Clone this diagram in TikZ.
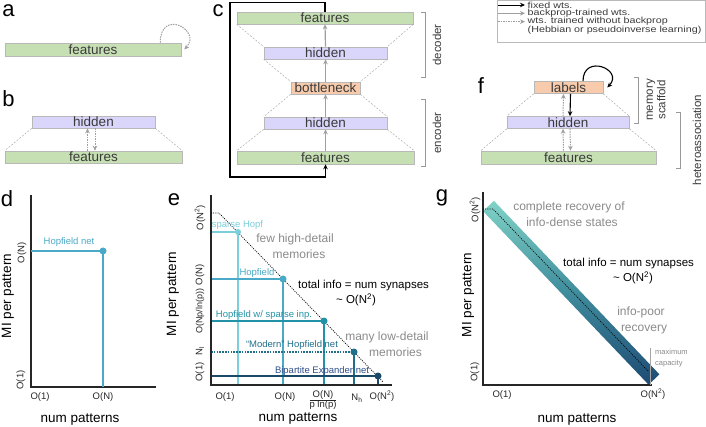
\documentclass[tikz,border=0pt]{standalone}
\usepackage{fontspec}
\setmainfont{Liberation Sans}
\newfontfamily\legfont[FakeStretch=1.22]{Liberation Sans}
\usetikzlibrary{arrows.meta}
\definecolor{featg}{HTML}{C6E0B4}
\definecolor{hidp}{HTML}{DAD5FA}
\definecolor{orng}{HTML}{F7CBAC}
\definecolor{layb}{HTML}{B8B8B8}
\definecolor{txtg}{HTML}{3A3A3A}
\definecolor{anng}{HTML}{8A8A8A}
\definecolor{cSp}{HTML}{7ACFDA}
\definecolor{cHop}{HTML}{4AA9C6}
\definecolor{cHsp}{HTML}{2293A6}
\definecolor{cMod}{HTML}{1F6E8A}
\definecolor{cBip}{HTML}{1B4A68}
\definecolor{cBipT}{HTML}{2D4E8A}
\definecolor{bandA}{HTML}{80D3C7}
\definecolor{bandM}{HTML}{3F8C9C}
\definecolor{bandB}{HTML}{1D4A74}
\begin{document}
\begin{tikzpicture}[x=1pt,y=-1pt,
  layer/.style={draw=layb, line width=0.6pt, inner sep=0pt, text=txtg, font=\fontsize{13.5}{14}\selectfont, minimum height=12pt},
  featl/.style={layer, fill=featg},
  hidl/.style={layer, fill=hidp},
  orl/.style={layer, fill=orng},
  trap/.style={draw=gray!65, dash pattern=on 2pt off 1.5pt, line width=0.5pt},
  fixedw/.style={draw=black, line width=1.1pt, -{Stealth[length=5pt,width=4.5pt]}},
  bpw/.style={draw=gray!75, line width=1.2pt, -{Stealth[length=5pt,width=4.5pt]}},
  nobpw/.style={draw=gray!75, line width=1pt, dash pattern=on 1.5pt off 1pt, -{Stealth[length=5pt,width=4.5pt]}},
  panel/.style={font=\fontsize{22}{22}\selectfont, inner sep=0pt},
  brk/.style={draw=gray!80, line width=0.6pt},
  brktxt/.style={font=\fontsize{11.5}{12.5}\selectfont, text=txtg, rotate=90, inner sep=0pt, align=center},
  legtxt/.style={font=\legfont\fontsize{8.8}{9}\selectfont, text=txtg, inner sep=0pt, anchor=west},
  axisl/.style={draw=black!85, line width=1.1pt},
  tick/.style={font=\fontsize{9.5}{10}\selectfont, inner sep=0pt, text=black!85},
  ytick/.style={tick, rotate=90},
  axlab/.style={font=\fontsize{13.5}{14}\selectfont, inner sep=0pt},
  ylab/.style={axlab, rotate=90},
  ann/.style={font=\fontsize{9.5}{10}\selectfont, inner sep=0pt},
  gtxt/.style={font=\fontsize{12}{16}\selectfont, text=anng, inner sep=0pt, align=center},
  btxt/.style={font=\fontsize{11.5}{14}\selectfont, inner sep=0pt},
  dline/.style={line width=1.5pt},
  dotc/.style={circle, inner sep=0pt, minimum size=7pt}
]
\useasboundingbox (0,0) rectangle (706,427);

% panel letters
\node[panel] (la) at (8.5,11) {a};
\node[panel] (lb) at (8.5,99) {b};
\node[panel] (lc) at (218,11) {c};
\node[panel] (ld) at (7,199) {d};
\node[panel] (le) at (174,200) {e};
\node[panel] (lf) at (481,86) {f};
\node[panel] (lg) at (442,198) {g};

% ---------- panel a
\node[featl, minimum width=176, minimum height=13] (featA) at (93,49.5) {features};
\draw[nobpw] ([xshift=-21]featA.north east) .. controls +(0,-35) and +(18,-19) .. ([xshift=3]featA.east);

% ---------- panel b
\node[hidl, minimum width=123] (hidB) at (93.5,122) {hidden};
\node[featl, minimum width=177] (featB) at (93.5,157) {features};
\draw[trap] (hidB.south west) -- (featB.north west);
\draw[trap] (hidB.south east) -- (featB.north east);
\draw[nobpw] ([xshift=-6]featB.north) -- ([xshift=-6]hidB.south);
\draw[nobpw] ([xshift=1.5]hidB.south) -- ([xshift=1.5]featB.north);

% ---------- panel c
\node[featl, minimum width=176] (featCt) at (325,18) {features};
\node[hidl, minimum width=123] (hidCt) at (325.5,53) {hidden};
\node[orl, minimum width=69] (bott) at (325.5,88) {bottleneck};
\node[hidl, minimum width=123] (hidCb) at (325.5,123) {hidden};
\node[featl, minimum width=177, minimum height=13] (featCb) at (325.5,157.5) {features};
\foreach \u/\v in {featCt/hidCt, hidCt/bott, bott/hidCb, hidCb/featCb}{
  \draw[trap] (\u.south west) -- (\v.north west);
  \draw[trap] (\u.south east) -- (\v.north east);
}
\draw[bpw] (featCb.north) -- (hidCb.south);
\draw[bpw] (hidCb.north) -- (bott.south);
\draw[bpw] (bott.north) -- (hidCt.south);
\draw[bpw] (hidCt.north) -- (featCt.south);
\coordinate (cLoop) at (230,177);
\draw[fixedw] (featCt.north) -- ++(0,-9) -| (cLoop) -| (featCb.south);
\draw[brk] (421,12) -- (425,12) -- (425,77) -- (421,77);
\draw[brk] (421,99) -- (425,99) -- (425,166) -- (421,166);
\node[brktxt] (dec) at (437,45) {decoder};
\node[brktxt] (enc) at (437,133) {encoder};

% ---------- legend
\node[draw=gray!55, line width=0.5pt, minimum width=208.5, minimum height=42.5, inner sep=0pt] (legend) at (601.2,21.4) {};
\coordinate (lg1a) at (498,5);     \coordinate (lg1b) at (525,5);
\coordinate (lg2a) at (498,13.3);  \coordinate (lg2b) at (525,13.3);
\coordinate (lg3a) at (498,21.6);  \coordinate (lg3b) at (525,21.6);
\draw[fixedw, line width=0.9pt] (lg1a) -- (lg1b);
\draw[bpw, line width=0.9pt] (lg2a) -- (lg2b);
\draw[nobpw, line width=0.8pt] (lg3a) -- (lg3b);
\node[legtxt] (lt1) at (527.5,5) {fixed wts.};
\node[legtxt] (lt2) at (527.5,13.3) {backprop-trained wts.};
\node[legtxt] (lt3) at (527.5,21.6) {wts. trained without backprop};
\node[legtxt] (lt4) at (527.5,30) {(Hebbian or pseudoinverse learning)};

% ---------- panel f
\node[orl, minimum width=69] (lab) at (568.5,87.5) {labels};
\node[hidl, minimum width=122] (hidF) at (568,122.5) {hidden};
\node[featl, minimum width=175, minimum height=13] (featF) at (568.5,157.5) {features};
\draw[trap] (lab.south west) -- (hidF.north west);
\draw[trap] (lab.south east) -- (hidF.north east);
\draw[trap] (hidF.south west) -- (featF.north west);
\draw[trap] (hidF.south east) -- (featF.north east);
\draw[nobpw] ([xshift=-5]hidF.north) -- ([xshift=-5]lab.south);
\draw[fixedw] ([xshift=2]lab.south) -- ([xshift=2]hidF.north);
\draw[nobpw] ([xshift=-5]featF.north) -- ([xshift=-5]hidF.south);
\draw[nobpw] ([xshift=2]hidF.south) -- ([xshift=2]featF.north);
\draw[fixedw] ([xshift=14.5]lab.north) .. controls +(0,-28) and +(17,-18) .. ([xshift=4]lab.east);
\draw[brk] (634,77) -- (638,77) -- (638,123) -- (634,123);
\draw[brk] (676,112) -- (680,112) -- (680,168) -- (676,168);
\node[brktxt] (mem) at (656,100) {memory\\scaffold};
\node[brktxt] (het) at (697,140) {heteroassociation};

% ---------- panel d
\coordinate (dO) at (31,387);
\draw[axisl] (31,195) -- (dO) -- (156,387);
\coordinate (dHop) at (103,251);
\draw[cHop, dline] (dO |- dHop) -- (dHop) -- (dHop |- dO);
\node[dotc, fill=cHop] (dHopD) at (dHop) {};
\node[ann, text=cHop] (dHopL) at (69,242) {Hopfield net};
\node[ytick] (dyN) at (22,253) {O(N)};
\node[ytick] (dy1) at (21,380) {O(1)};
\node[tick] (dx1) at (40,397) {O(1)};
\node[tick] (dxN) at (103,397) {O(N)};
\node[axlab] (dxl) at (80,420) {num patterns};
\node[ylab] (dyl) at (8,296) {MI per pattern};

% ---------- panel e
\coordinate (eO) at (211,385);
\coordinate (eSp) at (238,232);
\coordinate (eHop) at (283,279);
\coordinate (eHsp) at (324,321);
\coordinate (eMod) at (354,352);
\coordinate (eBip) at (378,376);
\draw[cSp, dline] (eO |- eSp) -- (eSp) -- (eSp |- eO);
\draw[cHop, dline] (eO |- eHop) -- (eHop) -- (eHop |- eO);
\draw[cHsp, dline] (eO |- eHsp) -- (eHsp) -- (eHsp |- eO);
\draw[cMod, dline, dash pattern=on 1.6pt off 1.2pt] (eO |- eMod) -- (eMod);
\draw[cMod, dline] (eMod) -- (eMod |- eO);
\draw[cBip, dline] (eO |- eBip) -- (eBip) -- (eBip |- eO);
\draw[axisl] (211,195) -- (eO) -- (392,385);
\draw[black, line width=0.7pt, dash pattern=on 1pt off 1.2pt] (211,213) -- (219,213) -- (383,382);
\node[dotc, fill=cSp, minimum size=6pt] (eSpD) at (eSp) {};
\node[dotc, fill=cHop] (eHopD) at (eHop) {};
\node[dotc, fill=cHsp] (eHspD) at (eHsp) {};
\node[dotc, fill=cMod] (eModD) at (eMod) {};
\node[dotc, fill=cBip] (eBipD) at (eBip) {};
\node[ann, text=cSp] (eSpL) at (237.5,225) {sparse Hopf};
\node[ann, text=cHop] (eHopL) at (257,273) {Hopfield};
\node[ann, text=cHsp] (eHspL) at (264,315) {Hopfield w/ sparse inp.};
\node[ann, text=cMod] (eModL) at (292,345) {“Modern” Hopfield net};
\node[ann, text=cBipT] (eBipL) at (322,371) {Bipartite Expander net};
\node[gtxt] (eFew) at (295,246) {few high-detail\\\hspace*{8pt}memories};
\node[gtxt] (eMany) at (387,344.5) {many low-detail\\\hspace*{17pt}memories};
\node[btxt, anchor=west] (eTot) at (298,286) {total info = num synapses};
\node[btxt] (eTot2) at (356,300) {\textasciitilde\ O(N\textsuperscript{2})};
\node[ytick] (eyN2) at (200,218) {O(N\textsuperscript{2})};
\node[ytick] (eyN) at (200,275) {O(N)};
\node[ytick, font=\fontsize{9}{10}\selectfont] (eyNp) at (200,311) {O(Np/ln(p))};
\node[ytick] (eyNl) at (200,351) {N\textsubscript{l}};
\node[ytick] (ey1) at (200,372) {O(1)};
\node[tick] (ex1) at (225,397) {O(1)};
\node[tick] (exN) at (285,397) {O(N)};
\node[tick, anchor=north] (exF) at (323,390.5) {\renewcommand\arraystretch{0.8}\begin{tabular}{@{}c@{}}O(N)\\\hline p ln(p)\end{tabular}};
\node[tick] (exNh) at (357,398) {N\textsubscript{h}};
\node[tick] (exN2) at (382,396.5) {O(N\textsuperscript{2})};
\node[axlab] (exl) at (298,419) {num patterns};
\node[ylab] (eyl) at (173,294) {MI per pattern};

% ---------- panel g
\shade[top color=bandA, bottom color=bandB, middle color=bandM] (493.9,200.8) -- (659.4,374.3) -- (648.6,384.7) -- (483.1,211.2) -- cycle;
\coordinate (gO) at (483,385);
\draw[axisl] (483,192) -- (gO) -- (652,385);
\draw[black, line width=0.7pt, dash pattern=on 1pt off 1.2pt] (483,209) -- (493,209) -- (648,371);
\draw[gray!70, line width=0.6pt] (650,348) -- (650,385);
\node[font=\fontsize{7.5}{11}\selectfont, text=anng, inner sep=0pt, align=left, anchor=west] (gMax) at (655,358) {maximum\\capacity};
\node[gtxt] (gComp) at (569,214.5) {complete recovery of\\\hspace*{6pt}info-dense states};
\node[btxt, anchor=west] (gTot) at (563,264) {total info = num synapses};
\node[btxt] (gTot2) at (633,278) {\textasciitilde\ O(N\textsuperscript{2})};
\node[gtxt] (gPoor) at (641,320) {info-poor\\\hspace*{6pt}recovery};
\node[ytick] (gyN2) at (475,210) {O(N\textsuperscript{2})};
\node[ytick] (gy1) at (475,372) {O(1)};
\node[tick] (gx1) at (502,395) {O(1)};
\node[tick] (gxN2) at (653,394.5) {O(N\textsuperscript{2})};
\node[axlab] (gxl) at (577,420) {num patterns};
\node[ylab] (gyl) at (468,295) {MI per pattern};
\end{tikzpicture}
\end{document}
